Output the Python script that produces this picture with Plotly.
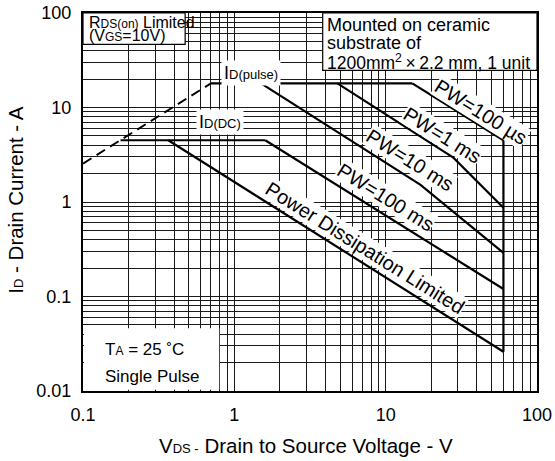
import plotly.graph_objects as go
import math

# Safe operating area curves (V_DS in volts, I_D in amperes)
vds_rds = [0.1, 0.7]
id_rds = [2.55, 18]

vds_pulse = [0.7, 15]
id_pulse = [18, 18]

vds_dc = [0.177, 1.6]
id_dc = [4.5, 4.5]

vds_100us = [15, 60]
id_100us = [18, 4.5]

vds_1ms = [4.8, 28, 60]
id_1ms = [18, 2.95, 0.87]

vds_10ms = [1.5, 17, 60]
id_10ms = [18, 1.52, 0.29]

vds_100ms = [1.6, 60]
id_100ms = [4.5, 0.12]

vds_pdl = [0.366, 60]
id_pdl = [4.5, 0.026]

vds_vdss = [60, 60]
id_vdss = [4.5, 0.026]

x_tickvals = [0.1, 1, 10, 100]
x_ticktext = ["0.1", "1", "10", "100"]
y_tickvals = [0.01, 0.1, 1, 10, 100]
y_ticktext = ["0.01", "0.1", "1", "10", "100"]

FONT = "Arial, Liberation Sans, sans-serif"
INK = "black"

fig = go.Figure()

fig.add_trace(go.Scatter(x=vds_rds, y=id_rds, mode="lines",
                         line=dict(color=INK, width=2, dash="10px,6px")))
for xs, ys in [(vds_pulse, id_pulse), (vds_dc, id_dc), (vds_100us, id_100us),
               (vds_1ms, id_1ms), (vds_10ms, id_10ms), (vds_100ms, id_100ms),
               (vds_pdl, id_pdl), (vds_vdss, id_vdss)]:
    fig.add_trace(go.Scatter(x=xs, y=ys, mode="lines",
                             line=dict(color=INK, width=2.2)))

grid = dict(showgrid=True, gridcolor="#1a1a1a", gridwidth=1)

fig.update_xaxes(type="log", range=[-1, 2], tickmode="array",
                 tickvals=x_tickvals, ticktext=x_ticktext,
                 showline=True, linecolor=INK, linewidth=2, mirror=True,
                 ticks="", ticklabelstandoff=6, automargin=False,
                 tickfont=dict(family=FONT, size=18, color=INK),
                 minor=dict(dtick="D1", **grid), **grid, zeroline=False)
fig.update_yaxes(type="log", range=[-2, 2], tickmode="array",
                 tickvals=y_tickvals, ticktext=y_ticktext,
                 showline=True, linecolor=INK, linewidth=2, mirror=True,
                 ticks="", ticklabelstandoff=6, automargin=False,
                 tickfont=dict(family=FONT, size=18, color=INK),
                 minor=dict(dtick="D1", **grid), **grid, zeroline=False)

shapes = [
    # R_DS(on) note box
    dict(type="rect", xref="paper", yref="paper", x0=0, x1=0.225, y0=0.917, y1=1,
         fillcolor="white", line=dict(color=INK, width=1.2), layer="above"),
    # mounting note box
    dict(type="rect", xref="paper", yref="paper", x0=0.528, x1=1, y0=0.848, y1=1,
         fillcolor="white", line=dict(color=INK, width=1.2), layer="above"),
    # ambient conditions box
    dict(type="rect", xref="paper", yref="paper", x0=0.002, x1=0.30, y0=0.003, y1=0.166,
         fillcolor="white", line=dict(width=0), layer="above"),
]

SM = "font-size:12px"
annotations = [
    dict(xref="paper", yref="paper", x=0.008, y=0.976, xanchor="left", yanchor="middle",
         text=f"R<span style='{SM}'>DS(on)</span> Limited", showarrow=False,
         font=dict(family=FONT, size=16, color=INK)),
    dict(xref="paper", yref="paper", x=0.008, y=0.941, xanchor="left", yanchor="middle",
         text=f"(V<span style='{SM}'>GS</span>=10V)", showarrow=False,
         font=dict(family=FONT, size=16, color=INK)),
    dict(xref="paper", yref="paper", x=0.533, y=0.968, xanchor="left", yanchor="middle",
         text="Mounted on ceramic", showarrow=False,
         font=dict(family=FONT, size=18, color=INK)),
    dict(xref="paper", yref="paper", x=0.533, y=0.920, xanchor="left", yanchor="middle",
         text="substrate of", showarrow=False,
         font=dict(family=FONT, size=18, color=INK)),
    dict(xref="paper", yref="paper", x=0.533, y=0.870, xanchor="left", yanchor="middle",
         text="1200mm<sup>2</sup>\u2009×\u20092.2 mm, 1 unit", showarrow=False,
         font=dict(family=FONT, size=17.5, color=INK)),
    dict(xref="paper", yref="paper", x=0.043, y=0.109, xanchor="left", yanchor="middle",
         text=f"T<span style='{SM}'>A</span> = 25 ˚C", showarrow=False,
         font=dict(family=FONT, size=17, color=INK)),
    dict(xref="paper", yref="paper", x=0.043, y=0.039, xanchor="left", yanchor="middle",
         text="Single Pulse", showarrow=False,
         font=dict(family=FONT, size=17, color=INK)),
    # curve labels (log10 coordinates)
    dict(x=math.log10(1.29), y=math.log10(23.4),
         text="I<span style='font-size:13px'>D(pulse)</span>", showarrow=False,
         bgcolor="white", borderpad=2, font=dict(family=FONT, size=18, color=INK)),
    dict(x=math.log10(0.807), y=math.log10(7.08),
         text="I<span style='font-size:13px'>D(DC)</span>", showarrow=False,
         bgcolor="white", borderpad=2, font=dict(family=FONT, size=18, color=INK)),
]

pw_labels = [
    ("PW=100 µs", 42.7, 9.03),
    ("PW=1 ms", 23.6, 5.15),
    ("PW=10 ms", 14.5, 2.8),
    ("PW=100 ms", 9.93, 1.13),
    ("Power Dissipation Limited", 7.33, 0.327),
]
for txt, xv, yv in pw_labels:
    annotations.append(dict(x=math.log10(xv), y=math.log10(yv), text=txt,
                            showarrow=False, textangle=32, bgcolor="white",
                            borderpad=0,
                            font=dict(family=FONT, size=20, color=INK)))

# axis titles
annotations.append(dict(xref="paper", yref="paper", x=0.491, y=-0.143,
                        xanchor="center", yanchor="middle", showarrow=False,
                        text="V<span style='font-size:13px'>DS -</span> Drain to Source Voltage - V",
                        font=dict(family=FONT, size=20.5, color=INK)))
annotations.append(dict(xref="paper", yref="paper", x=-0.1476, y=0.506,
                        xanchor="center", yanchor="middle", showarrow=False,
                        textangle=-90,
                        text="I<span style='font-size:13px'>D</span> - Drain Current - A",
                        font=dict(family=FONT, size=20.5, color=INK)))

fig.update_layout(width=555, height=461,
                  margin=dict(l=83, r=18, t=13, b=70),
                  paper_bgcolor="white", plot_bgcolor="white",
                  showlegend=False, shapes=shapes, annotations=annotations)

fig.write_html("out.html")
